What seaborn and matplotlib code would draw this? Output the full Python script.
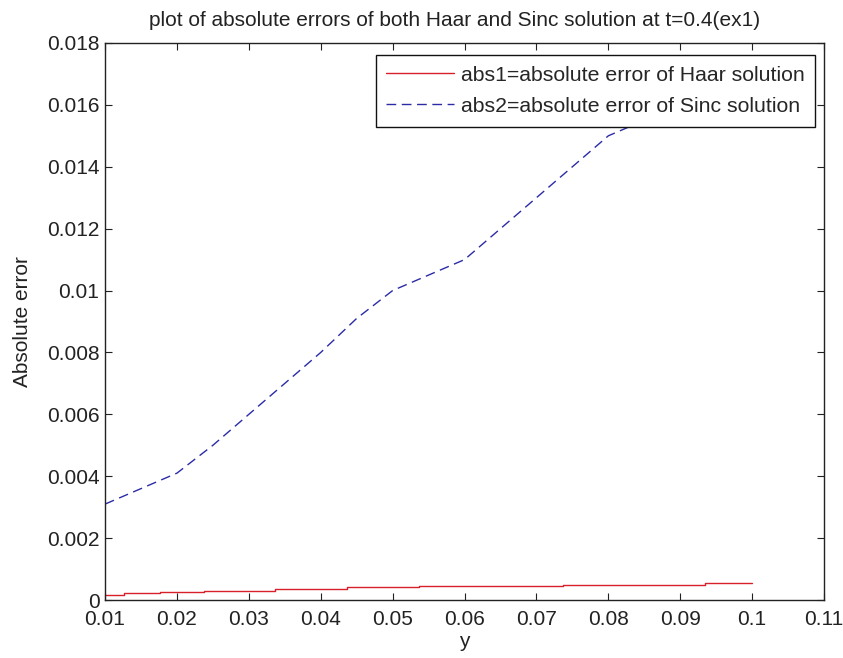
import matplotlib
matplotlib.use("Agg")
import matplotlib.pyplot as plt
import pandas as pd
import seaborn as sns

# Haar solution error (piecewise constant)
haar_y = [0.01, 0.0126, 0.0176, 0.0238, 0.0337, 0.0437, 0.0536, 0.0737, 0.0935, 0.1]
haar_err = [0.00016, 0.00022, 0.00026, 0.00030, 0.00036, 0.00041, 0.00046, 0.00049, 0.00054, 0.00054]

# Sinc solution error
sinc_y = [0.010, 0.015, 0.020, 0.025, 0.030, 0.035, 0.040, 0.045, 0.050, 0.055,
          0.060, 0.065, 0.070, 0.075, 0.080, 0.085, 0.090, 0.095, 0.100]
sinc_err = [0.0031, 0.0036, 0.0041, 0.0050, 0.0060, 0.0070, 0.0080, 0.0091, 0.0100, 0.0105,
            0.0110, 0.0120, 0.0130, 0.0140, 0.0150, 0.0155, 0.0160, 0.0163, 0.0166]

x_ticks = [0.01, 0.02, 0.03, 0.04, 0.05, 0.06, 0.07, 0.08, 0.09, 0.1, 0.11]
y_ticks = [0, 0.002, 0.004, 0.006, 0.008, 0.01, 0.012, 0.014, 0.016, 0.018]

sns.set_theme(style="ticks")
plt.rcParams["font.family"] = ["Liberation Sans", "DejaVu Sans"]

fig = plt.figure(figsize=(8.43, 6.58), dpi=100, facecolor="white")
ax = fig.add_axes([0.1246, 0.0881, 0.8529, 0.8466])
ax.set_facecolor("white")

haar_df = pd.DataFrame({"y": haar_y, "err": haar_err})
sinc_df = pd.DataFrame({"y": sinc_y, "err": sinc_err})

sns.lineplot(data=haar_df, x="y", y="err", ax=ax, color="#d8202a", linewidth=1.0,
             drawstyle="steps-post", estimator=None,
             label="abs1=absolute error of Haar solution")
sns.lineplot(data=sinc_df, x="y", y="err", ax=ax, color="#2b2ba8", linewidth=1.0,
             estimator=None, label="abs2=absolute error of Sinc solution")
ax.lines[1].set_dashes([7, 4])

ax.set_xlim(0.01, 0.11)
ax.set_ylim(0, 0.018)
ax.set_xticks(x_ticks)
ax.set_xticklabels([f"{v:g}" for v in x_ticks])
ax.set_yticks(y_ticks)
ax.set_yticklabels([f"{v:g}" for v in y_ticks])
ax.tick_params(direction="in", top=True, right=True, length=5, width=0.8,
               labelsize=15, colors="#222222", pad=4)
ax.tick_params(axis="x", pad=7)
for s in ax.spines.values():
    s.set_visible(True)
    s.set_color("#222222")
    s.set_linewidth(1.0)

ax.set_xlabel("y", fontsize=15, color="#222222", labelpad=2)
ax.set_ylabel("Absolute error", fontsize=15, color="#222222", labelpad=11)
ax.set_title("plot of absolute errors of both Haar and Sinc solution at t=0.4(ex1)",
             fontsize=15, color="#222222", pad=12, x=0.486)

leg = ax.legend(loc="upper right", bbox_to_anchor=(0.9875, 0.9785), borderaxespad=0,
                fontsize=15.3, frameon=True, fancybox=False, framealpha=1,
                edgecolor="#111111", handlelength=3.2, handletextpad=0.3,
                borderpad=0.5, labelspacing=0.58)
leg.get_frame().set_linewidth(1.0)

fig.savefig("out.png", dpi=100, facecolor="white")
